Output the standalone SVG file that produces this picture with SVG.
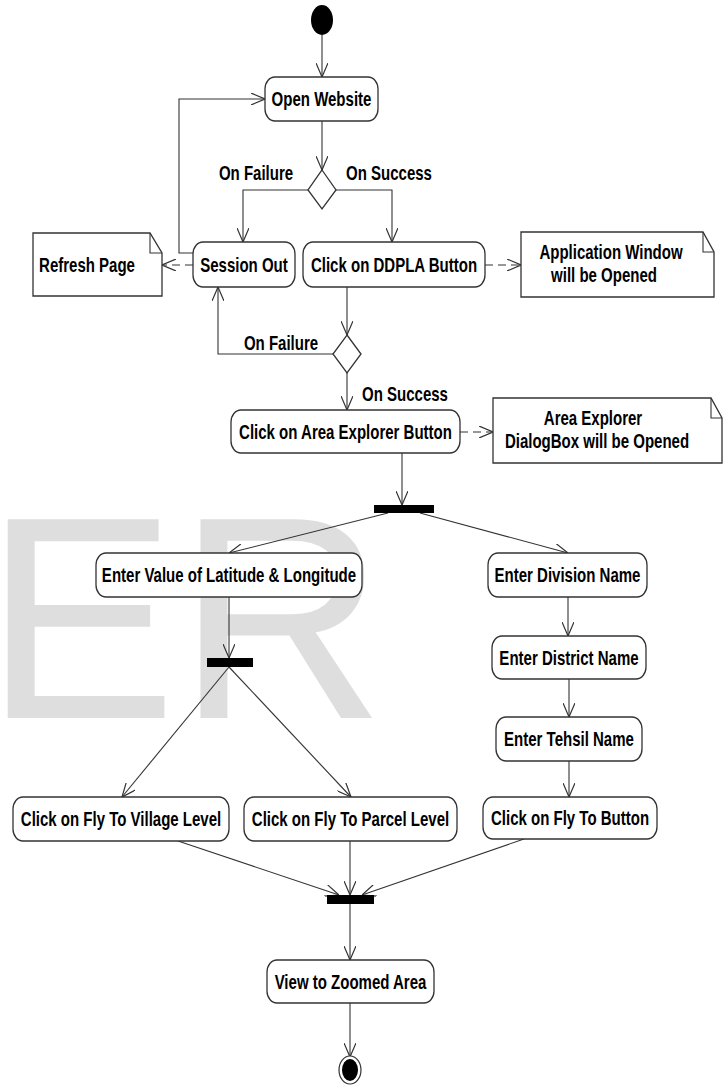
<svg xmlns="http://www.w3.org/2000/svg" width="725" height="1085" viewBox="0 0 725 1085">
<defs>
<marker id="arr" viewBox="0 0 14 12" refX="14" refY="6" markerWidth="14" markerHeight="12" markerUnits="userSpaceOnUse" orient="auto">
<path d="M0,0 L14,6 L0,12" fill="none" stroke="#333" stroke-width="1.2"/>
</marker>
</defs>
<style>
.box{fill:#fff;stroke:#333;stroke-width:1.3}
.note{fill:#fff;stroke:#333;stroke-width:1.3}
.bar{fill:#000}
.t{font-family:"Liberation Sans",Arial,sans-serif;font-weight:bold;font-size:19.5px;fill:#000;text-anchor:middle}
.c{fill:none;stroke:#333;stroke-width:1.1;marker-end:url(#arr)}
.d{fill:none;stroke:#333;stroke-width:1.1;stroke-dasharray:8,5;marker-end:url(#arr)}
.wm{font-family:"Liberation Sans",Arial,sans-serif;font-size:289px;fill:#dedede}
</style>
<rect width="725" height="1085" fill="#fff"/>
<text class="wm" x="-16" y="718">ER</text>

<g id="connectors">
<path class="c" d="M322,35 L322,77"/>
<path class="c" d="M322,121 L322,170"/>
<path class="c" d="M308,190 L243,190 L243,242"/>
<path class="c" d="M336,190 L392,190 L392,242"/>
<path class="c" d="M193,253 L179,253 L179,99 L265,99"/>
<path class="d" d="M193,265 L162,265"/>
<path class="d" d="M485,265 L521,265"/>
<path class="c" d="M347,287 L347,335"/>
<path class="c" d="M333,354 L218,354 L218,287"/>
<path class="c" d="M347,373 L347,410"/>
<path class="d" d="M460,432 L493,432"/>
<path class="c" d="M402,453 L402,505"/>
<path class="c" d="M388,513 L229,553"/>
<path class="c" d="M420,513 L568,553"/>
<path class="c" d="M229,597 L229,658"/>
<path class="c" d="M568,597 L568,636"/>
<path class="c" d="M569,679 L569,717"/>
<path class="c" d="M569,761 L569,797"/>
<path class="c" d="M229,667 L122,797"/>
<path class="c" d="M229,667 L351,797"/>
<path class="c" d="M178,841 L339,895"/>
<path class="c" d="M350,841 L350,895"/>
<path class="c" d="M524,839 L362,895"/>
<path class="c" d="M350,904 L350,960"/>
<path class="c" d="M350,1003 L350,1057"/>
<text class="t" transform="translate(256,180) scale(0.77,1)">On Failure</text>
<text class="t" transform="translate(389,180) scale(0.77,1)">On Success</text>
<text class="t" transform="translate(281,350) scale(0.77,1)">On Failure</text>
<text class="t" transform="translate(405,401) scale(0.77,1)">On Success</text>
</g>

<g id="start"><ellipse cx="322" cy="20" rx="11" ry="15" fill="#000"/></g>

<g id="open-website">
<rect class="box" x="265" y="77" width="113" height="44" rx="10" ry="12"/>
<text class="t" transform="translate(321.5,106) scale(0.77,1)">Open Website</text>
</g>

<g id="decision1"><polygon class="box" points="322,170 336,190 322,209 308,190"/></g>

<g id="session-out">
<rect class="box" x="193" y="242" width="102" height="45" rx="10" ry="12"/>
<text class="t" transform="translate(244,272) scale(0.77,1)">Session Out</text>
</g>

<g id="ddpla">
<rect class="box" x="303" y="242" width="182" height="45" rx="10" ry="12"/>
<text class="t" transform="translate(394,272) scale(0.77,1)">Click on DDPLA Button</text>
</g>

<g id="refresh-note">
<path class="note" d="M33,233 L150,233 L162,253 L162,296 L33,296 Z"/>
<path fill="none" stroke="#333" stroke-width="1.1" d="M150,233 L150,253 L162,253"/>
<text class="t" transform="translate(87,272) scale(0.77,1)">Refresh Page</text>
</g>

<g id="app-note">
<path class="note" d="M521,232 L703,232 L714,252 L714,297 L521,297 Z"/>
<path fill="none" stroke="#333" stroke-width="1.1" d="M703,232 L703,252 L714,252"/>
<text class="t" transform="translate(611,259) scale(0.77,1)">Application Window</text>
<text class="t" transform="translate(604,282) scale(0.77,1)">will be Opened</text>
</g>

<g id="decision2"><polygon class="box" points="347,335 361,354 347,373 333,354"/></g>

<g id="area-explorer">
<rect class="box" x="231" y="410" width="229" height="43" rx="10" ry="12"/>
<text class="t" transform="translate(345.5,438.5) scale(0.77,1)">Click on Area Explorer Button</text>
</g>

<g id="area-note">
<path class="note" d="M493,398 L711,398 L722,418 L722,463 L493,463 Z"/>
<path fill="none" stroke="#333" stroke-width="1.1" d="M711,398 L711,418 L722,418"/>
<text class="t" transform="translate(593,425) scale(0.77,1)">Area Explorer</text>
<text class="t" transform="translate(597,448) scale(0.77,1)">DialogBox will be Opened</text>
</g>

<g id="fork1"><rect class="bar" x="374" y="505" width="60" height="8"/></g>

<g id="lat-long">
<rect class="box" x="96" y="553" width="266" height="44" rx="10" ry="12"/>
<text class="t" transform="translate(229,582) scale(0.77,1)">Enter Value of Latitude &amp; Longitude</text>
</g>

<g id="division">
<rect class="box" x="488" y="553" width="159" height="44" rx="10" ry="12"/>
<text class="t" transform="translate(567.5,582) scale(0.77,1)">Enter Division Name</text>
</g>

<g id="fork2"><rect class="bar" x="207" y="658" width="46" height="9"/></g>

<g id="district">
<rect class="box" x="492" y="636" width="154" height="43" rx="10" ry="12"/>
<text class="t" transform="translate(569,664.5) scale(0.77,1)">Enter District Name</text>
</g>

<g id="tehsil">
<rect class="box" x="496" y="717" width="146" height="44" rx="10" ry="12"/>
<text class="t" transform="translate(569,746) scale(0.77,1)">Enter Tehsil Name</text>
</g>

<g id="village">
<rect class="box" x="13" y="797" width="216" height="44" rx="10" ry="12"/>
<text class="t" transform="translate(121,826) scale(0.77,1)">Click on Fly To Village Level</text>
</g>

<g id="parcel">
<rect class="box" x="244" y="797" width="213" height="44" rx="10" ry="12"/>
<text class="t" transform="translate(350.5,826) scale(0.77,1)">Click on Fly To Parcel Level</text>
</g>

<g id="fly-button">
<rect class="box" x="483" y="797" width="174" height="42" rx="10" ry="12"/>
<text class="t" transform="translate(570,825) scale(0.77,1)">Click on Fly To Button</text>
</g>

<g id="join"><rect class="bar" x="327" y="895" width="47" height="9"/></g>

<g id="view-zoomed">
<rect class="box" x="267" y="960" width="167" height="43" rx="10" ry="12"/>
<text class="t" transform="translate(350.5,988.5) scale(0.77,1)">View to Zoomed Area</text>
</g>

<g id="end">
<ellipse cx="350" cy="1070" rx="11" ry="14" fill="#fff" stroke="#333" stroke-width="1.2"/>
<ellipse cx="350" cy="1070" rx="8" ry="11" fill="#000"/>
</g>
</svg>
